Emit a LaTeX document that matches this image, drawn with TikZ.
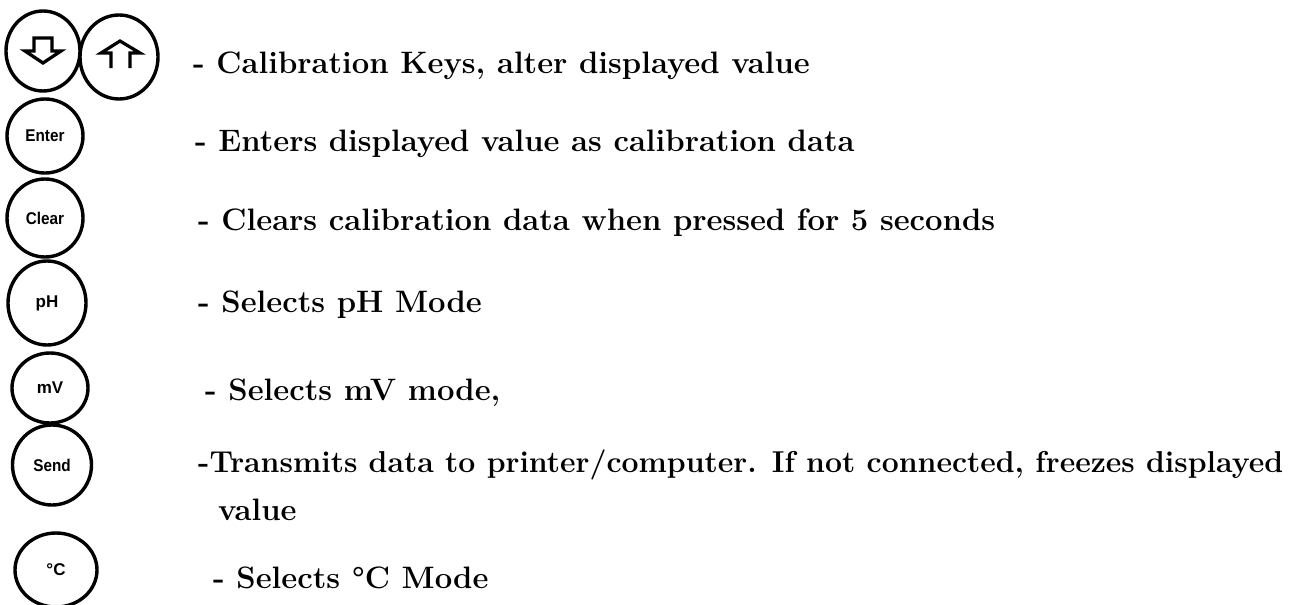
\documentclass[tikz,border=0pt]{standalone}
\usepackage{fontspec}
\newfontfamily\keyfont{Liberation Sans}
\usetikzlibrary{shapes.geometric}
\tikzset{
  keybtn/.style={draw, ellipse, line width=3.4pt, inner sep=0pt, font=\keyfont\bfseries\fontsize{17}{17}\selectfont},
  desc/.style={anchor=base west, inner sep=0pt, font=\bfseries\fontsize{31}{36}\selectfont},
  arrowglyph/.style={line width=3.2pt, line join=miter}
}
\begin{document}
\begin{tikzpicture}[x=1pt,y=-1pt]
\useasboundingbox (0,0) rectangle (1299,605);
% keys
\node[keybtn, minimum width=74pt, minimum height=80pt] (down) at (43,51) {};
\node[keybtn, minimum width=78pt, minimum height=84pt] (up) at (119,57) {};
\node[keybtn, minimum width=76pt, minimum height=74pt] (enter) at (45,136) {\scalebox{0.9}[1]{Enter}};
\node[keybtn, minimum width=76pt, minimum height=78pt] (clear) at (45,218) {\scalebox{0.9}[1]{Clear}};
\node[keybtn, minimum width=78pt, minimum height=84pt] (ph) at (47,303) {pH};
\node[keybtn, minimum width=76pt, minimum height=70pt] (mv) at (50,388) {mV};
\node[keybtn, minimum width=79pt, minimum height=80pt] (send) at (52,465) {\scalebox{0.9}[1]{Send}};
\node[keybtn, minimum width=82pt, minimum height=74pt] (degc) at (56,570) {°C};
% arrow glyphs
\draw[arrowglyph, shift={(down.center)}] (-9,-13) -- (9,-13) -- (9,0) -- (18,0) -- (0,12) -- (-18,0) -- (-9,0) -- cycle;
\draw[arrowglyph, shift={(up.center)}] (-8,11) -- (-8,-4) -- (-18,-4) -- (1,-16) -- (21,-4) -- (11,-4) -- (11,11);
% descriptions
\node[desc] (t1) at (193,73) {- Calibration Keys, alter displayed value};
\node[desc] (t2) at (195,151) {- Enters displayed value as calibration data};
\node[desc] (t3) at (198,230) {- Clears calibration data when pressed for 5 seconds};
\node[desc] (t4) at (198,312) {- Selects pH Mode};
\node[desc] (t5) at (205,400) {- Selects mV mode,};
\node[desc, font=\bfseries\fontsize{30.2}{36}\selectfont] (t6) at (198,472) {-Transmits data to printer/computer. If not connected, freezes displayed};
\node[desc] (t6b) at (218,520) {value};
\node[desc] (t7) at (213,588) {- Selects °C Mode};
\end{tikzpicture}
\end{document}
